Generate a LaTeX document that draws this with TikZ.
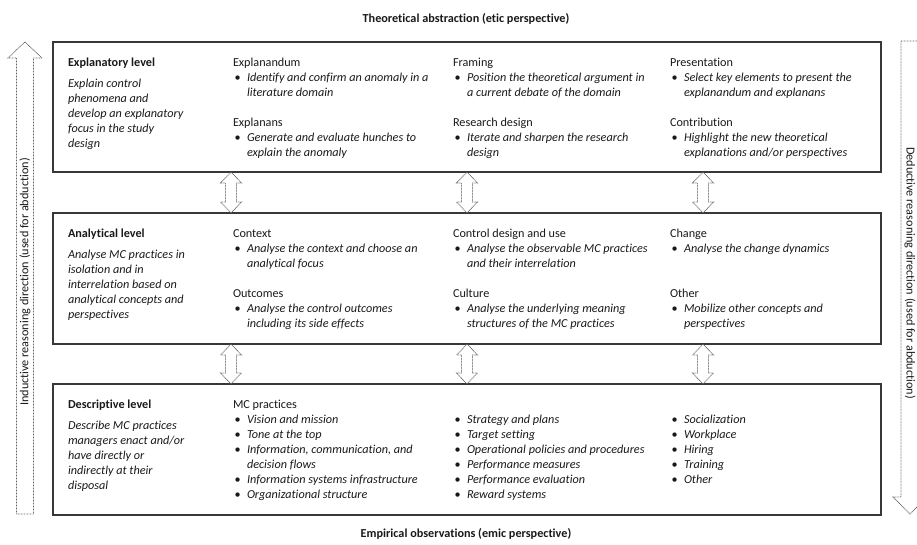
\documentclass[tikz,border=0pt]{standalone}
\usepackage{fontspec}
\setmainfont{Carlito}[Ligatures=NoCommon]
\usetikzlibrary{calc}
\newcommand\colbox[2][205pt]{\vtop{\hsize=#1\parindent=0pt\parskip=0pt\baselineskip=15pt\lineskiplimit=-30pt\lineskip=0pt\raggedright #2\par}}
\newcommand\hd[1]{\noindent #1\par}
\newcommand\li[1]{\noindent\textit{#1}\par}
\newcommand\bi[1]{\noindent\makebox[14pt][l]{\hspace{1.5pt}•}\textit{#1}\par}
\newcommand\ci[1]{\noindent\hspace*{14pt}\textit{#1}\par}
\newcommand\gap[1][15pt]{\vskip#1\relax}
\newcommand\dbl[2]{\draw[dots] (#1) -- ($(#1)+(10.5,11)$) -- ($(#1)+(5.5,11)$) -- ($(#2)+(5.5,-11)$) -- ($(#2)+(10.5,-11)$) -- (#2) -- ($(#2)+(-10.5,-11)$) -- ($(#2)+(-5.5,-11)$) -- ($(#1)+(-5.5,11)$) -- ($(#1)+(-10.5,11)$) -- cycle;}
\begin{document}
\begin{tikzpicture}[x=1pt,y=-1pt,
  font=\fontsize{12.2pt}{15pt}\selectfont,
  box/.style={draw=black!78, line width=1.2pt, minimum width=828pt, inner sep=0pt, outer sep=0pt},
  dots/.style={draw=black!62, line width=0.8pt, dash pattern=on 0.8pt off 0.7pt},
  txt/.style={anchor=base west, inner sep=0pt, outer sep=0pt, text=black!90},
  ttl/.style={anchor=base, inner sep=0pt, font=\fontsize{12.2pt}{15pt}\selectfont\bfseries, text=black!90}]
\useasboundingbox (0,0) rectangle (917,544);

% titles
\node[ttl] (top) at (466,22) {Theoretical abstraction (etic perspective)};
\node[ttl] (bot) at (466,537) {Empirical observations (emic perspective)};

% level boxes
\node[box, minimum height=130pt] (expl) at (467,107) {};
\node[box, minimum height=131pt] (anal) at (467,278.5) {};
\node[box, minimum height=131pt] (desc) at (467,449.5) {};

% double arrows between levels
\foreach \dx/\i in {-236/a,0/b,236/c}{
  \coordinate (ta\i) at ($(expl.south)+(\dx,0)$);
  \coordinate (ba\i) at ($(anal.north)+(\dx,0)$);
  \dbl{ta\i}{ba\i}
  \coordinate (tb\i) at ($(anal.south)+(\dx,0)$);
  \coordinate (bb\i) at ($(desc.north)+(\dx,0)$);
  \dbl{tb\i}{bb\i}
}

% side arrows
\draw[dots] (25,42) -- (42,58) -- (33.5,58) -- (33.5,514) -- (16.5,514) -- (16.5,58) -- (8,58) -- cycle;
\node[rotate=90, inner sep=0pt, text=black!90] (ltxt) at (25,282) {Inductive reasoning direction (used for abduction)};
\draw[dots] (901,41) -- (919,41) -- (919,497) -- (927,497) -- (910,514) -- (893,497) -- (901,497) -- cycle;
\node[rotate=-90, inner sep=0pt, text=black!90] (rtxt) at (910,273) {Deductive reasoning direction (used for abduction)};

% explanatory level
\node[txt] (e1) at (68,66) {\colbox[160pt]{\hd{\textbf{Explanatory level}}\gap[6pt]\li{Explain control}\li{phenomena and}\li{develop an explanatory}\li{focus in the study}\li{design}}};
\node[txt] (e2) at (233,66) {\colbox{\hd{Explanandum}\bi{Identify and confirm an anomaly in a}\ci{literature domain}\gap\hd{Explanans}\bi{Generate and evaluate hunches to}\ci{explain the anomaly}}};
\node[txt] (e3) at (453,66) {\colbox{\hd{Framing}\bi{Position the theoretical argument in}\ci{a current debate of the domain}\gap\hd{Research design}\bi{Iterate and sharpen the research}\ci{design}}};
\node[txt] (e4) at (670,66) {\colbox{\hd{Presentation}\bi{Select key elements to present the}\ci{explanandum and explanans}\gap\hd{Contribution}\bi{Highlight the new theoretical}\ci{explanations and/or perspectives}}};

% analytical level
\node[txt] (a1) at (68,237) {\colbox[160pt]{\hd{\textbf{Analytical level}}\gap[6pt]\li{Analyse MC practices in}\li{isolation and in}\li{interrelation based on}\li{analytical concepts and}\li{perspectives}}};
\node[txt] (a2) at (233,237) {\colbox{\hd{Context}\bi{Analyse the context and choose an}\ci{analytical focus}\gap\hd{Outcomes}\bi{Analyse the control outcomes}\ci{including its side effects}}};
\node[txt] (a3) at (453,237) {\colbox{\hd{Control design and use}\bi{Analyse the observable MC practices}\ci{and their interrelation}\gap\hd{Culture}\bi{Analyse the underlying meaning}\ci{structures of the MC practices}}};
\node[txt] (a4) at (670,237) {\colbox{\hd{Change}\bi{Analyse the change dynamics}\gap[30pt]\hd{Other}\bi{Mobilize other concepts and}\ci{perspectives}}};

% descriptive level
\node[txt] (d1) at (68,408) {\colbox[160pt]{\hd{\textbf{Descriptive level}}\gap[6pt]\li{Describe MC practices}\li{managers enact and/or}\li{have directly or}\li{indirectly at their}\li{disposal}}};
\node[txt] (d2) at (233,408) {\colbox{\hd{MC practices}\bi{Vision and mission}\bi{Tone at the top}\bi{Information, communication, and}\ci{decision flows}\bi{Information systems infrastructure}\bi{Organizational structure}}};
\node[txt] (d3) at (453,423) {\colbox{\bi{Strategy and plans}\bi{Target setting}\bi{Operational policies and procedures}\bi{Performance measures}\bi{Performance evaluation}\bi{Reward systems}}};
\node[txt] (d4) at (670,423) {\colbox{\bi{Socialization}\bi{Workplace}\bi{Hiring}\bi{Training}\bi{Other}}};
\end{tikzpicture}
\end{document}
